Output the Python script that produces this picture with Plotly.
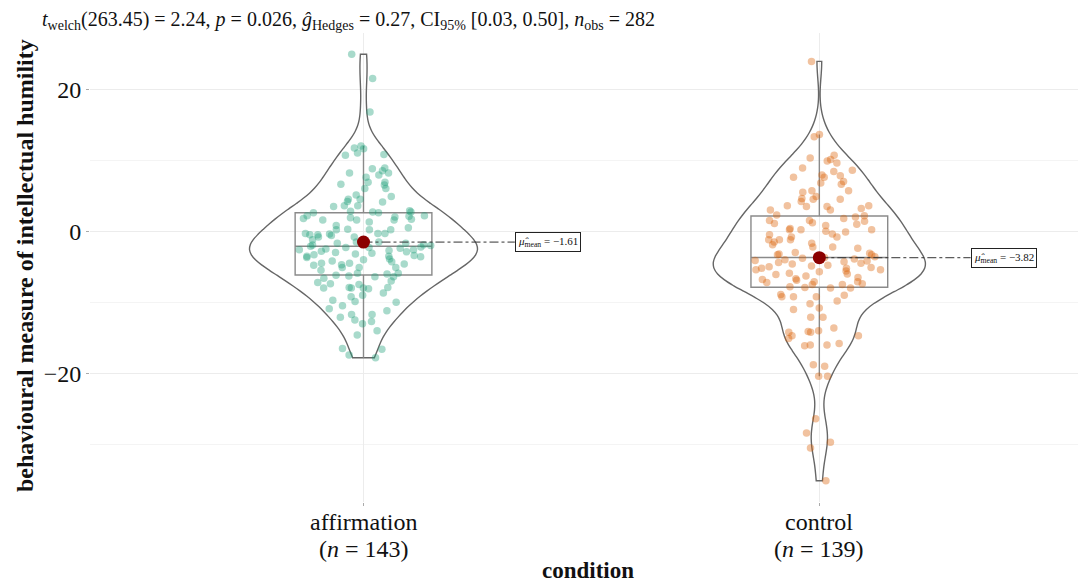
import plotly.graph_objects as go
import numpy as np

categories = ["affirmation", "control"]
n_labels = ["(<i>n</i> = 143)", "(<i>n</i> = 139)"]
y_tick_vals = [-20, 0, 20]
y_tick_text = ["\u221220", "0", "20"]
mean_labels = ["\u22121.61", "\u22123.82"]

affirmation = [
    24.9, 21.5, 16.8,
    12.0, 11.7, 11.6, 11.0, 10.8, 10.7,
    8.9, 8.8, 8.5, 8.2, 8.2, 7.9, 7.6, 6.9, 6.9, 6.6, 6.5, 6.0, 6.0,
    5.1, 4.9, 4.5, 4.5, 4.2, 4.1, 3.6, 3.6, 3.5,
    2.9, 2.8, 2.7, 2.7, 2.6, 2.6, 2.2, 2.2, 2.1, 2.0, 1.9, 1.8, 1.7, 1.6, 1.6, 1.6, 1.3,
    0.8, 0.5, 0.3, 0.2, 0.2, 0.2,
    -0.3, -0.3, -0.3, -0.4, -0.5, -0.5, -0.6, -0.8, -0.8,
    -1.2, -1.5, -1.5, -1.7, -1.7, -1.9,
    -1.95, -2.0, -2.1, -2.2, -2.3, -2.3, -2.4, -2.5, -2.6, -2.6, -2.7, -2.8, -2.9,
    -3.0, -3.1, -3.2, -3.3, -3.4, -3.5, -3.5, -3.6, -3.7, -3.9,
    -4.0, -4.2, -4.3, -4.5, -4.5, -4.6, -4.7, -4.8,
    -5.1, -5.1, -5.1, -5.5, -5.9, -5.9, -6.0,
    -6.2, -6.3, -6.4, -6.4, -6.6,
    -7.0, -7.2, -7.4, -7.5, -7.9, -7.9,
    -8.0, -8.0, -8.0, -8.1, -8.7,
    -9.0, -9.2, -9.7, -9.9,
    -10.0, -10.5, -10.9,
    -11.2, -11.7, -11.7,
    -12.1, -12.5, -12.7, -13.0,
    -14.0, -14.6, -16.5, -16.6, -17.4, -17.8,
]

control = [
    23.9, 13.6, 13.3,
    10.7, 10.3, 10.1, 9.9, 9.6,
    8.9, 8.6, 8.4, 7.9, 7.8, 7.6, 7.6,
    7.0, 6.8, 6.6, 5.7, 5.7, 5.5,
    4.9, 4.6, 4.5, 4.5, 4.2,
    3.6, 3.6, 3.5, 3.5, 3.2, 3.0, 3.0, 2.3, 2.2,
    2.0, 1.8, 1.5, 1.5, 1.4, 1.2, 1.1, 1.0, 0.8, 0.4,
    0.2, 0.2, 0.2, 0.0, -0.1, -0.4, -0.5, -0.8, -0.8, -1.2,
    -1.2, -1.2, -1.5, -1.7, -1.9, -2.2, -2.2, -2.4, -3.0, -3.1,
    -3.2, -3.3, -3.3, -3.6, -3.7,
    -3.8, -3.9, -4.0, -4.1, -4.2, -4.3, -4.4, -4.5, -4.6,
    -4.8, -4.9, -5.0, -5.1, -5.2, -5.2, -5.4, -5.4,
    -5.6, -5.7, -5.9, -6.0, -6.1, -6.3, -6.5,
    -6.7, -6.8, -6.9, -7.1, -7.1, -7.2, -7.4, -7.5, -7.5, -7.8,
    -7.9, -8.0, -8.0, -8.9, -9.0, -9.2, -9.2, -9.2, -9.8,
    -10.2, -10.8, -11.0, -12.1, -12.1,
    -13.6, -14.0, -14.1, -14.2, -14.2, -14.7, -14.7,
    -15.1, -15.8, -16.0, -16.0, -16.1,
    -18.8, -19.0, -20.4, -20.4,
    -26.4, -28.4, -29.7, -30.5, -35.1,
]

groups = [affirmation, control]
positions = list(range(len(categories)))
point_colors = ["rgba(27,158,119,0.38)", "rgba(217,95,2,0.38)"]
violin_widths = [0.50, 0.465]
bandwidths = [2.2, 2.5]

FONT = "Liberation Serif, Times New Roman, serif"

fig = go.Figure()

for pos, cat, vals, vw, bw in zip(positions, categories, groups, violin_widths, bandwidths):
    fig.add_trace(go.Violin(
        x=[pos] * len(vals), y=vals, name=cat,
        line=dict(color="#666666", width=1.4),
        fillcolor="rgba(0,0,0,0)",
        points=False, box_visible=False, meanline_visible=False,
        spanmode="hard", bandwidth=bw, width=vw, scalemode="width",
        hoverinfo="skip", showlegend=False,
    ))

for pos, cat, vals, col in zip(positions, categories, groups, point_colors):
    fig.add_trace(go.Box(
        x=[pos] * len(vals), y=vals, name=cat,
        boxpoints="all", jitter=1.0, pointpos=0,
        marker=dict(color=col, size=7.5, line=dict(width=0)),
        line=dict(color="#8a8a8a", width=1.4),
        fillcolor="rgba(0,0,0,0)",
        whiskerwidth=0, width=0.3,
        showlegend=False,
    ))

for pos, vals, lab in zip(positions, groups, mean_labels):
    m = float(np.mean(vals))
    fig.add_trace(go.Scatter(
        x=[pos, pos + 0.332], y=[m, m], mode="lines",
        line=dict(color="#333333", width=1, dash="dashdot"),
        showlegend=False, hoverinfo="skip",
    ))
    fig.add_trace(go.Scatter(
        x=[pos], y=[m], mode="markers",
        marker=dict(color="#8B0000", size=13),
        showlegend=False,
    ))
    fig.add_annotation(
        x=pos + 0.332, y=m, xref="x", yref="y", xanchor="left", yanchor="middle",
        text="<i>\u03bc\u0302</i><sub>mean</sub> = " + lab,
        showarrow=False, font=dict(family=FONT, size=11, color="#111"),
        bgcolor="white", bordercolor="#222", borderwidth=1, borderpad=2,
    )

# category labels (two lines, ggplot-like tight line spacing)
for pos, cat, nl in zip(positions, categories, n_labels):
    fig.add_annotation(
        x=pos, y=-0.0426, xref="x", yref="paper", xanchor="center", yanchor="middle",
        text=cat, showarrow=False, font=dict(family=FONT, size=24, color="#111"),
    )
    fig.add_annotation(
        x=pos, y=-0.1002, xref="x", yref="paper", xanchor="center", yanchor="middle",
        text=nl, showarrow=False, font=dict(family=FONT, size=24, color="#111"),
    )

fig.add_annotation(
    x=-0.0502, y=1.0277, xref="paper", yref="paper", xanchor="left", yanchor="middle",
    text=("<i>t</i><sub>welch</sub>(263.45) = 2.24, <i>p</i> = 0.026, "
          "<i>\u011d</i><sub>Hedges</sub> = 0.27, CI<sub>95%</sub> [0.03, 0.50], "
          "<i>n</i><sub>obs</sub> = 282"),
    showarrow=False, font=dict(family=FONT, size=20, color="#111"),
)
fig.add_annotation(
    x=-0.0653, y=0.505, xref="paper", yref="paper", xanchor="center", yanchor="middle",
    textangle=-90,
    text="<b>behavioural measure of intellectual humility</b>",
    showarrow=False, font=dict(family=FONT, size=24, color="#111"),
)
fig.add_annotation(
    x=0.5, y=-0.1471, xref="paper", yref="paper", xanchor="center", yanchor="middle",
    text="<b>condition</b>",
    showarrow=False, font=dict(family=FONT, size=23, color="#111"),
)

fig.update_layout(
    width=1078, height=575,
    margin=dict(l=82, r=0, t=25, b=81),
    paper_bgcolor="white", plot_bgcolor="white",
    font=dict(family=FONT, size=20, color="#111"),
    violinmode="overlay", boxmode="overlay",
    showlegend=False,
)
fig.update_xaxes(
    range=[-0.6, 1.585],
    tickvals=positions, showticklabels=False,
    showgrid=True, gridcolor="#ececec", gridwidth=1,
    ticks="outside", ticklen=3, tickcolor="#aaaaaa",
    showline=False, zeroline=False, automargin=False,
)
fig.update_yaxes(
    range=[-38.1, 27.9],
    tickvals=y_tick_vals, ticktext=y_tick_text,
    showgrid=True, gridcolor="#ececec", gridwidth=1,
    minor=dict(tickvals=[-30, -10, 10], showgrid=True, gridcolor="#f4f4f4", ticks=""),
    ticks="outside", ticklen=3, tickcolor="#aaaaaa",
    showline=False, zeroline=False, automargin=False,
    tickfont=dict(family=FONT, size=24, color="#111"),
)

fig.write_html("out.html")
